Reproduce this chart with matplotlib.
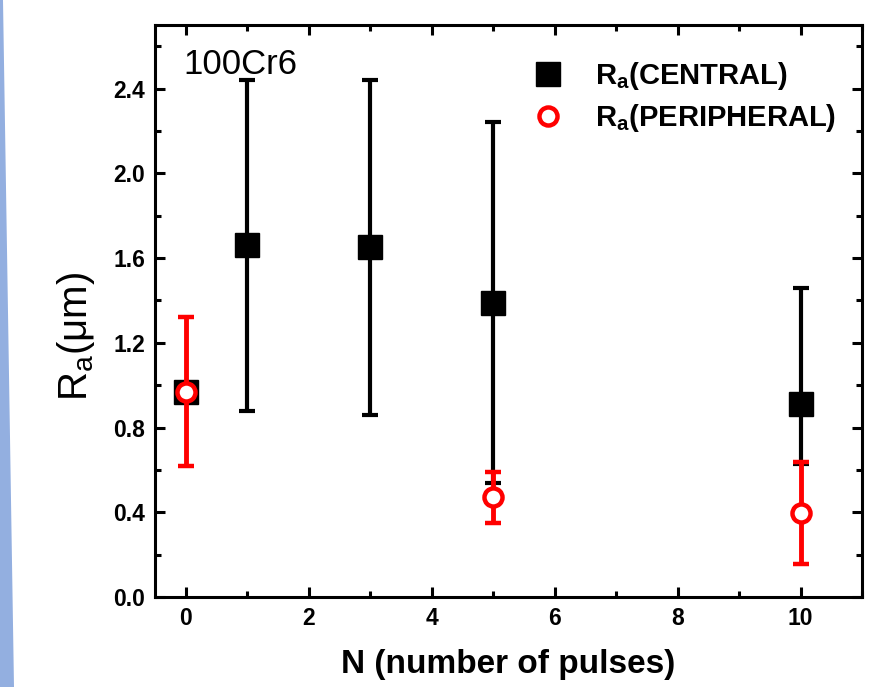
import matplotlib.pyplot as plt
from matplotlib.lines import Line2D
from matplotlib.patches import Polygon
from matplotlib.ticker import MultipleLocator

# pulses
n_central = [0, 1, 3, 5, 10]
ra_central = [0.97, 1.66, 1.65, 1.39, 0.91]
err_central_lo = [0.0, 0.78, 0.79, 0.85, 0.28]
err_central_hi = [0.0, 0.78, 0.79, 0.85, 0.55]

n_periph = [0, 5, 10]
ra_periph = [0.97, 0.47, 0.395]
err_periph = [0.35, 0.12, 0.24]

plt.rcParams["font.family"] = ["Liberation Sans", "DejaVu Sans"]

fig = plt.figure(figsize=(8.93, 6.87), dpi=100)
# light blue strip on the left edge of the slide
fig.patches.append(Polygon([[0, 0], [14 / 893, 0], [3 / 893, 1], [0, 1]], closed=True,
                           transform=fig.transFigure, facecolor="#93afe0", edgecolor="none"))

ax = fig.add_axes([155 / 893, 90 / 687, 707 / 893, 572 / 687])

ax.errorbar(n_central, ra_central, yerr=[err_central_lo, err_central_hi], fmt="s", color="black",
            ms=17, elinewidth=3, capsize=6, capthick=3, zorder=2)
ax.errorbar(n_periph, ra_periph, yerr=err_periph, fmt="o", color="red", mfc="white", mec="red",
            ms=13, mew=3.2, ecolor="red", elinewidth=3.5, capsize=6, capthick=3.5, zorder=3)

ax.set_xlim(-0.5, 11)
ax.set_ylim(0, 2.7)
ax.xaxis.set_major_locator(MultipleLocator(2))
ax.xaxis.set_minor_locator(MultipleLocator(1))
ax.yaxis.set_major_locator(MultipleLocator(0.4))
ax.yaxis.set_minor_locator(MultipleLocator(0.2))
ax.yaxis.set_major_formatter(lambda v, p: f"{v:.1f}")

for s in ax.spines.values():
    s.set_linewidth(2.2)
ax.tick_params(which="both", direction="in", top=True, right=True, width=2.2)
ax.tick_params(which="major", length=7, pad=7, labelsize=16.5)
ax.tick_params(which="minor", length=4)
for lab in ax.get_xticklabels() + ax.get_yticklabels():
    lab.set_fontweight("bold")

ax.set_xlabel("N (number of pulses)", fontsize=24, fontweight="bold", labelpad=14)
ax.set_ylabel("R$_\\mathregular{a}$(μm)", fontsize=29)
ax.yaxis.set_label_coords(-0.082, 0.455)

ax.text(0.04, 0.96, "100Cr6", transform=ax.transAxes, fontsize=25, va="top", ha="left")

handles = [
    Line2D([], [], ls="none", marker="s", color="black", ms=17),
    Line2D([], [], ls="none", marker="o", mfc="white", mec="red", mew=3.2, ms=13),
]
labels = ["R$_\\mathregular{a}$(CENTRAL)", "R$_\\mathregular{a}$(PERIPHERAL)"]
leg = ax.legend(handles, labels, loc="upper right", frameon=False, handletextpad=0.6,
                labelspacing=0.35, prop={"weight": "bold", "size": 21},
                bbox_to_anchor=(1.0, 0.985))

fig.savefig("out.png", dpi=100)
